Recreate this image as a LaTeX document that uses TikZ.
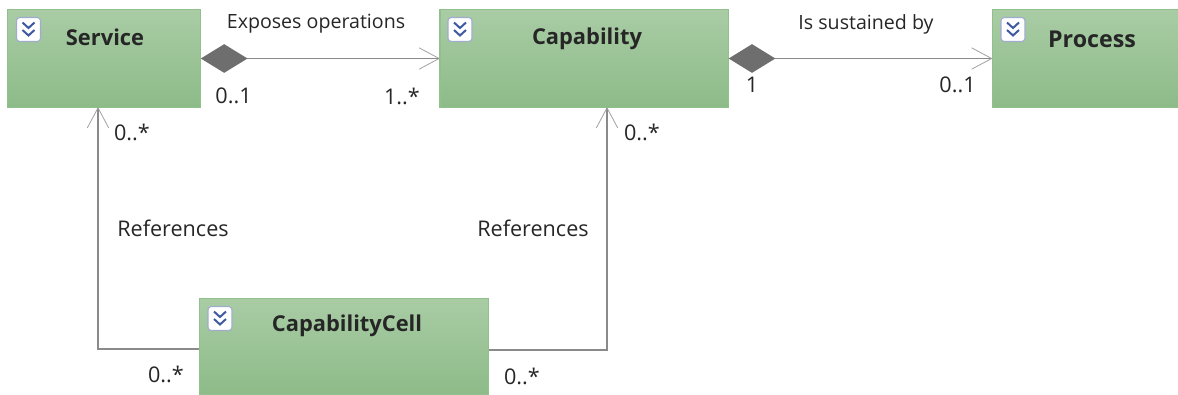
\documentclass[tikz,border=0pt]{standalone}
\usepackage{fontspec}
\setmainfont{Open Sans}
\usetikzlibrary{arrows.meta,calc}
\definecolor{boxtop}{HTML}{A9CCA5}
\definecolor{boxbot}{HTML}{8DBB88}
\definecolor{boxedge}{HTML}{90C08B}
\definecolor{linegray}{HTML}{8A8A8A}
\definecolor{diagray}{HTML}{6E6E6E}
\definecolor{iconblue}{HTML}{3F5AA0}
\tikzset{
  x=0.75pt,y=-0.75pt,
  classbox/.style={draw=boxedge,line width=0.9pt,top color=boxtop,bottom color=boxbot,minimum height=73.5pt,inner sep=0pt,outer sep=0pt,anchor=north west},
  classname/.style={font=\bfseries\fontsize{16.4}{18}\selectfont,text=black!85,inner sep=0pt},
  lbl/.style={font=\fontsize{14.7}{16}\selectfont,text=black!85,inner sep=0pt},
  widelbl/.style={font=\fontsize{16.2}{18}\selectfont,text=black!85,inner sep=0pt},
  conn/.style={draw=linegray,line width=1.1pt},
  barbtip/.style={-{Straight Barb[length=15pt,width=16pt,line width=0.6pt,color=linegray!80]}},
  compos/.style={{Diamond[length=35pt,width=21.5pt,color=diagray,fill=diagray]}-{Straight Barb[length=15pt,width=16pt,line width=0.6pt,color=linegray!80]}},
  iconbox/.style={draw=iconblue!50,line width=0.8pt,fill=white,rounded corners=2.5pt,minimum width=18pt,minimum height=18pt,inner sep=0pt},
  chev/.style={draw=iconblue,line width=1.5pt}
}
\newcommand{\iconat}[2]{%
  \node[iconbox] (#1) at (#2) {};
  \draw[chev] ($(#1.center)+(-6,-7)$) -- ($(#1.center)+(0,-1.5)$) -- ($(#1.center)+(6,-7)$);
  \draw[chev] ($(#1.center)+(-6,0.5)$) -- ($(#1.center)+(0,6)$) -- ($(#1.center)+(6,0.5)$);
}
\begin{document}
\begin{tikzpicture}
\useasboundingbox (0,0) rectangle (1178,394);
\node[classbox,minimum width=145pt] (svc) at (7.5,9.5) {};
\node[classbox,minimum width=216.5pt] (cap) at (440,9.5) {};
\node[classbox,minimum width=139.5pt] (proc) at (992.5,9.5) {};
\node[classbox,minimum width=217pt,minimum height=72pt] (cell) at (199.5,298.5) {};
\coordinate (svcin) at (98,107);
\coordinate (capin) at (607,107);
\coordinate (cellout1) at (199,349);
\coordinate (cellout2) at (489,350);
\draw[conn,compos] (svc.east) -- (cap.west);
\draw[conn,compos] (cap.east) -- (proc.west);
\draw[conn,barbtip] (cellout1) -| (svcin);
\draw[conn,barbtip] (cellout2) -| (capin);
\iconat{i1}{28.5,29.5}
\iconat{i2}{460,29.5}
\iconat{i3}{1013,29.5}
\iconat{i4}{220,318.5}
\node[classname] (t1) at (105,37) {Service};
\node[classname] (t2) at (587,39) {Capability};
\node[classname,font=\bfseries\fontsize{17.4}{18}\selectfont] (t3) at (1092,39.5) {Process};
\node[classname] (t4) at (347,326) {CapabilityCell};
\node[lbl] (l1) at (316,24) {Exposes operations};
\node[lbl] (l2) at (866,24) {Is sustained by};
\node[widelbl] (l3) at (173,228) {References};
\node[widelbl] (l4) at (533,228) {References};
\node[widelbl] (m1) at (233.5,96) {0..1};
\node[widelbl] (m2) at (402,96) {1..*};
\node[widelbl] (m3) at (752,85) {1};
\node[widelbl] (m4) at (957.5,85) {0..1};
\node[widelbl] (m5) at (132,132) {0..*};
\node[widelbl] (m6) at (642,132) {0..*};
\node[widelbl] (m7) at (166,374) {0..*};
\node[widelbl] (m8) at (522,376) {0..*};
\end{tikzpicture}
\end{document}
